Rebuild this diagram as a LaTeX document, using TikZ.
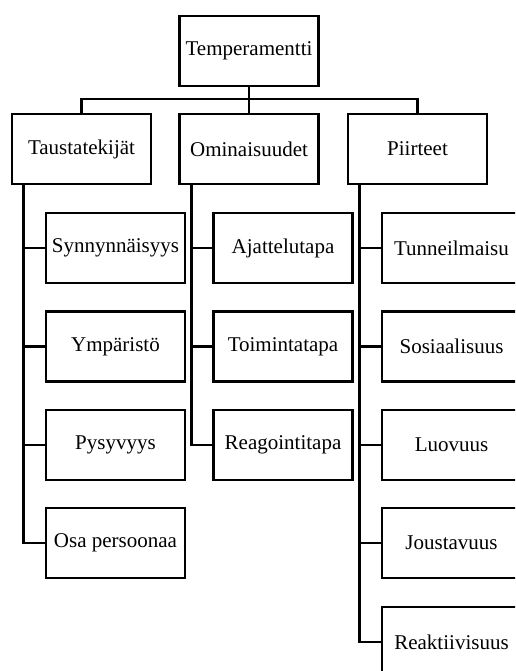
\documentclass[tikz,border=0pt]{standalone}
\usepackage{fontspec}
\setmainfont{Liberation Serif}
\begin{document}
\begin{tikzpicture}[x=1pt,y=-1pt,
  box/.style={draw, line width=2.8pt, minimum width=139pt, minimum height=70pt,
    inner sep=0pt, font=\fontsize{21}{25}\selectfont},
  link/.style={line width=2.8pt, line join=miter}]
\clip (0,0) rectangle (515,671);
\fill[white] (0,0) rectangle (515,671);

% root and first level
\node[box] (root) at (249,51) {Temperamentti};
\node[box] (tausta) at (81.5,149) {Taustatekijät};
\node[box] (omin) at (249,149) {Ominaisuudet};
\node[box] (piir) at (417.5,149) {Piirteet};
\coordinate (bar) at (249,99);

% second level
\node[box] (syn) at (115.5,248) {Synnynnäisyys};
\node[box] (ymp) at (115.5,346.5) {Ympäristö};
\node[box] (pys) at (115.5,445) {Pysyvyys};
\node[box] (osa) at (115.5,543) {Osa persoonaa};

\node[box] (aja) at (283,248) {Ajattelutapa};
\node[box] (toi) at (283,346.5) {Toimintatapa};
\node[box] (rea) at (283,445) {Reagointitapa};

\node[box] (tun) at (451.5,248) {Tunneilmaisu};
\node[box] (sos) at (451.5,346.5) {Sosiaalisuus};
\node[box] (luo) at (451.5,445) {Luovuus};
\node[box] (jou) at (451.5,543) {Joustavuus};
\node[box] (rek) at (451.5,642) {Reaktiivisuus};

% connectors
\draw[link] (root.south) -- (omin.north);
\draw[link] (tausta.north) |- (bar) -| (piir.north);

\foreach \c in {syn,ymp,pys,osa}
  \draw[link] ([xshift=13pt]tausta.south west) |- (\c.west);
\foreach \c in {aja,toi,rea}
  \draw[link] ([xshift=13pt]omin.south west) |- (\c.west);
\foreach \c in {tun,sos,luo,jou,rek}
  \draw[link] ([xshift=13pt]piir.south west) |- (\c.west);
\end{tikzpicture}
\end{document}
